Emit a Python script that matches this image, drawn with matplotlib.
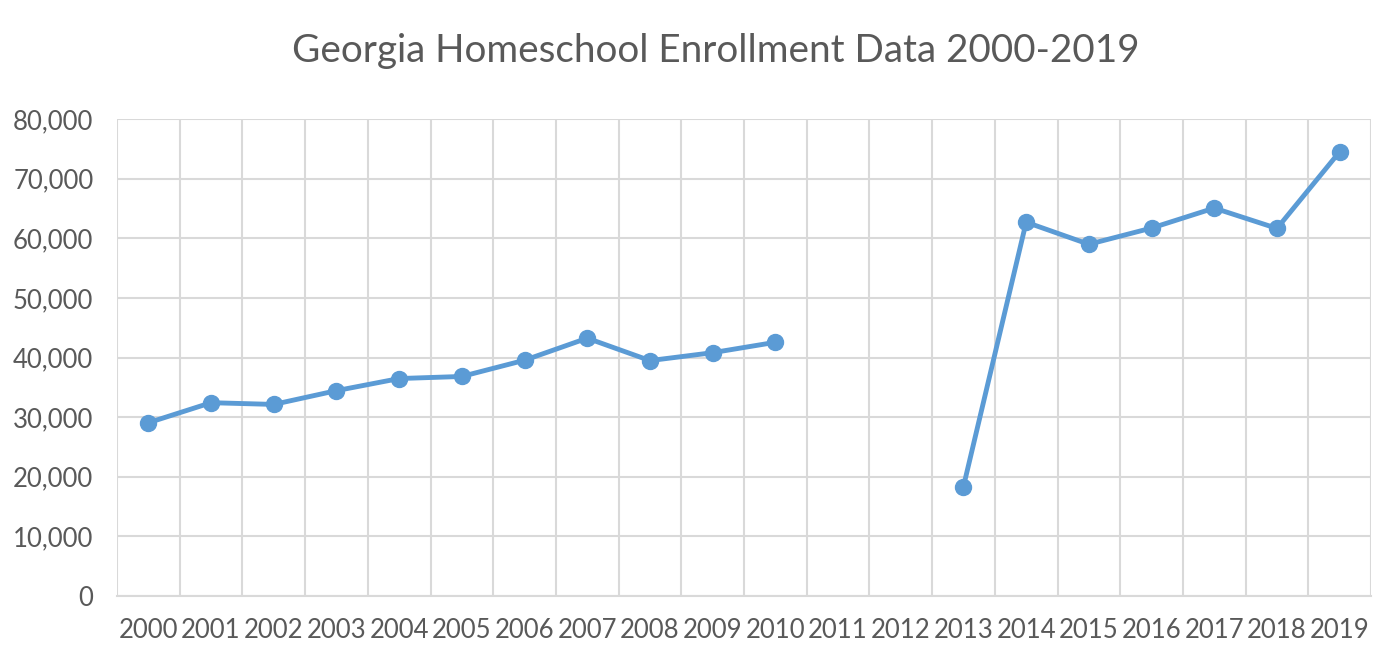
import numpy as np
from matplotlib import pyplot as plt
from matplotlib.ticker import FuncFormatter, MultipleLocator

years = [str(y) for y in range(2000, 2020)]
enrollment = [29060, 32420, 32130, 34440, 36470, 36820, 39540, 43240, 39480, 40810,
              42550, np.nan, np.nan, 18350, 62690, 58990, 61710, 65060, 61650, 74500]

plt.rcParams['font.family'] = ['Lato', 'DejaVu Sans']

fig = plt.figure(figsize=(14, 6.62), dpi=100)
ax = fig.add_axes([117 / 1400, 1 - 596 / 662, (1371 - 117) / 1400, (596 - 119) / 662])

x = np.arange(len(years))
ax.plot(x, enrollment, color='#5B9BD5', linewidth=3.5, marker='o', markersize=11.5,
        solid_capstyle='round', zorder=3)

ax.set_xlim(-0.5, len(years) - 0.5)
ax.set_ylim(0, 80000)
ax.yaxis.set_major_locator(MultipleLocator(10000))
ax.yaxis.set_major_formatter(FuncFormatter(lambda v, p: f'{int(v):,}'))
ax.set_xticks(x)
ax.set_xticklabels(years)
ax.set_xticks(np.arange(-0.5, len(years), 1), minor=True)

ax.grid(True, axis='y', which='major', color='#D9D9D9', linewidth=1.5)
ax.grid(True, axis='x', which='minor', color='#D9D9D9', linewidth=1.5)
ax.set_axisbelow(True)
for s in ax.spines.values():
    s.set_visible(False)
ax.spines['bottom'].set_visible(True)
ax.spines['bottom'].set_color('#D9D9D9')
ax.spines['bottom'].set_linewidth(1.5)

ax.tick_params(axis='both', which='both', length=0, labelsize=18.5, colors='#595959')
ax.tick_params(axis='x', pad=16)
ax.tick_params(axis='y', pad=17)

fig.text(716 / 1400, 1 - 51 / 662, 'Georgia Homeschool Enrollment Data 2000-2019',
         ha='center', va='center', fontsize=27.8, color='#595959')

fig.savefig('out.png', dpi=100)
